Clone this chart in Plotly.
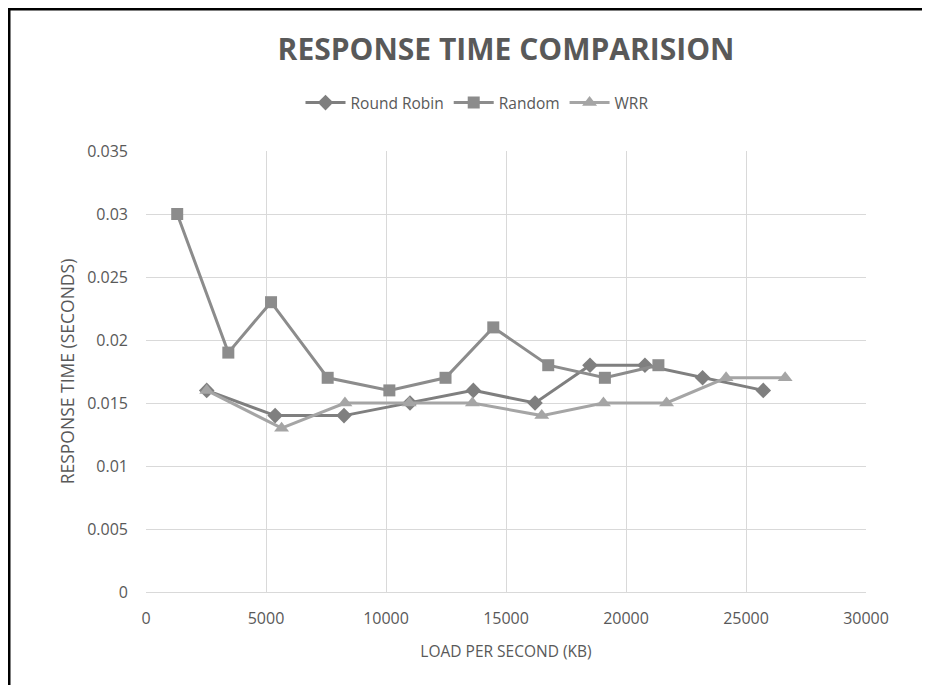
import plotly.graph_objects as go

# Data
rr_x = [2530, 5380, 8250, 11000, 13640, 16210, 18500, 20790, 23190, 25720]
rr_y = [0.016, 0.014, 0.014, 0.015, 0.016, 0.015, 0.018, 0.018, 0.017, 0.016]

rand_x = [1300, 3430, 5210, 7570, 10140, 12480, 14470, 16760, 19120, 21350]
rand_y = [0.030, 0.019, 0.023, 0.017, 0.016, 0.017, 0.021, 0.018, 0.017, 0.018]

wrr_x = [2530, 5650, 8290, 10970, 13600, 16490, 19060, 21690, 24170, 26630]
wrr_y = [0.016, 0.013, 0.015, 0.015, 0.015, 0.014, 0.015, 0.015, 0.017, 0.017]

# page has an 8px body margin, so the figure is offset by 8px
OFF = 8
W, H = 930 - OFF, 685 - OFF
L, R, T, B = 146 - OFF, 64, 151 - OFF, 93
pw, ph = W - L - R, H - T - B

def px(x):  # screen px -> paper
    return (x - OFF - L) / pw

def py(y):
    return (H - B - (y - OFF)) / ph

FONT = "Open Sans"
TXT = "#595959"

fig = go.Figure()
fig.add_trace(go.Scatter(x=rr_x, y=rr_y, name="Round Robin", mode="lines+markers",
                         line=dict(color="#7f7f7f", width=3),
                         marker=dict(symbol="diamond", size=12, color="#7f7f7f")))
fig.add_trace(go.Scatter(x=rand_x, y=rand_y, name="Random", mode="lines+markers",
                         line=dict(color="#8c8c8c", width=3),
                         marker=dict(symbol="square", size=12, color="#8c8c8c")))
fig.add_trace(go.Scatter(x=wrr_x, y=wrr_y, name="WRR", mode="lines+markers",
                         line=dict(color="#a5a5a5", width=3),
                         marker=dict(symbol="triangle-up", size=13, color="#a5a5a5")))

fig.update_layout(
    width=W, height=H,
    margin=dict(l=L, r=R, t=T, b=B, autoexpand=False),
    paper_bgcolor="white", plot_bgcolor="white",
    font=dict(family=FONT, color=TXT, size=15),
    title=dict(text="<b>RESPONSE TIME COMPARISION</b>", x=0.5, xref="paper",
               xanchor="center", y=1 - (49 - OFF) / H, yanchor="middle",
               font=dict(family=FONT, size=30, color=TXT)),
    legend=dict(orientation="h", x=px(477), xanchor="center",
                y=py(103), yanchor="middle",
                font=dict(family=FONT, size=15.5, color=TXT),
                itemwidth=40, bgcolor="rgba(0,0,0,0)"),
    xaxis=dict(range=[0, 30000], dtick=5000, tick0=0, tickformat="d",
               showgrid=True, gridcolor="#d9d9d9", gridwidth=1,
               showline=True, linecolor="#d9d9d9", linewidth=1,
               zeroline=False, ticks="", ticklabelstandoff=12,
               tickfont=dict(size=16, color=TXT, family=FONT),
               title=dict(text="LOAD PER SECOND (KB)", standoff=17,
                          font=dict(size=15.5, color=TXT, family=FONT))),
    yaxis=dict(range=[0, 0.035], dtick=0.005, tick0=0,
               showgrid=True, gridcolor="#d9d9d9", gridwidth=1,
               showline=False, zeroline=False, ticks="", ticklabelstandoff=17,
               tickfont=dict(size=16, color=TXT, family=FONT),
               title=dict(text="RESPONSE TIME (SECONDS)", standoff=8,
                          font=dict(size=17.5, color=TXT, family=FONT))),
    shapes=[
        dict(type="line", xref="paper", yref="paper",
             x0=px(9), x1=px(9), y0=py(7), y1=py(700),
             line=dict(color="black", width=3)),
        dict(type="line", xref="paper", yref="paper",
             x0=px(7.5), x1=px(945), y0=py(9), y1=py(9),
             line=dict(color="black", width=3)),
    ],
)

fig.write_html("out.html")
